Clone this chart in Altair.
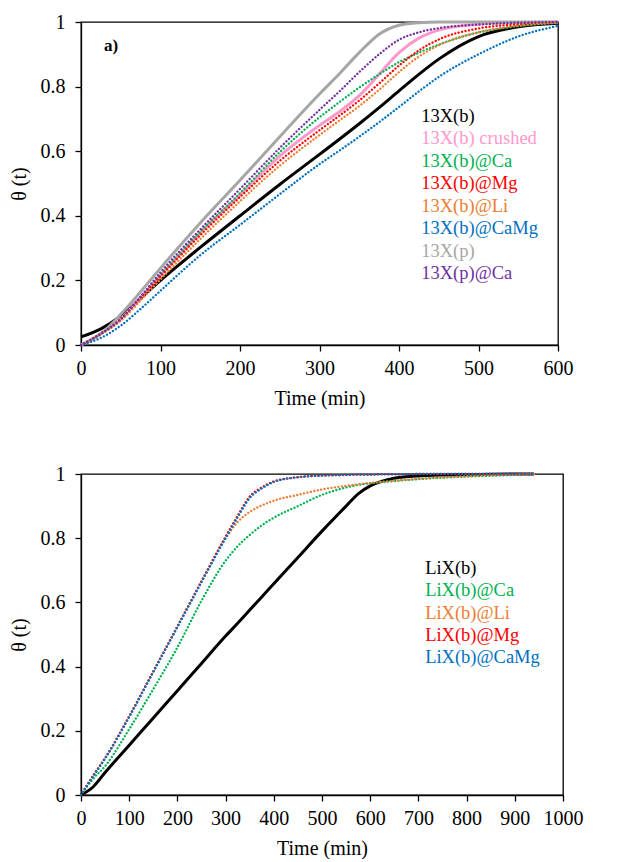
import altair as alt
import pandas as pd

FONT = "Liberation Serif"

# ---------------- panel a) ----------------
T_A = [0, 25, 50, 75, 100, 150, 200, 250, 300, 325, 350, 375, 400, 425, 450, 500, 550, 600]
A_NAMES = ["13X(b)", "13X(b) crushed", "13X(b)@Ca", "13X(b)@Mg", "13X(b)@Li",
           "13X(b)@CaMg", "13X(p)", "13X(p)@Ca"]
A_COLORS = ["#000000", "#FF99CC", "#00B050", "#FF0000", "#ED7D31",
            "#0070C0", "#A6A6A6", "#7030A0"]
A_STYLE = ["solid", "solid", "dot", "dot", "dot", "dot", "solid", "dot"]

A_13Xb = [0.025, 0.05, 0.09, 0.145, 0.2, 0.302, 0.4, 0.497, 0.59, 0.637, 0.685, 0.735,
          0.787, 0.838, 0.885, 0.955, 0.985, 0.996]
A_13Xb_crushed = [0.0, 0.035, 0.08, 0.148, 0.215, 0.348, 0.465, 0.585, 0.68, 0.722, 0.772,
                  0.838, 0.905, 0.95, 0.975, 0.993, 0.998, 1.0]
A_13Xb_Ca = [0.0, 0.035, 0.08, 0.148, 0.218, 0.35, 0.47, 0.597, 0.705, 0.752, 0.797, 0.838,
             0.876, 0.905, 0.93, 0.968, 0.987, 0.998]
A_13Xb_Mg = [0.0, 0.035, 0.08, 0.145, 0.212, 0.34, 0.458, 0.57, 0.665, 0.71, 0.757, 0.81,
             0.865, 0.912, 0.946, 0.98, 0.993, 0.999]
A_13Xb_Li = [0.0, 0.033, 0.075, 0.138, 0.203, 0.328, 0.445, 0.555, 0.65, 0.695, 0.74,
             0.79, 0.845, 0.893, 0.928, 0.968, 0.988, 0.997]
A_13Xb_CaMg = [0.0, 0.022, 0.06, 0.112, 0.168, 0.278, 0.372, 0.467, 0.56, 0.602, 0.645,
               0.69, 0.737, 0.785, 0.83, 0.9, 0.955, 0.988]
A_13Xp = [0.0, 0.035, 0.095, 0.165, 0.238, 0.378, 0.51, 0.645, 0.777, 0.84, 0.905, 0.962,
          0.99, 0.998, 1.0, 1.0, 1.0, 1.0]
A_13Xp_Ca = [0.0, 0.035, 0.08, 0.15, 0.225, 0.358, 0.483, 0.61, 0.728, 0.785, 0.845, 0.9,
             0.945, 0.968, 0.981, 0.992, 0.998, 1.0]
A_VALUES = [A_13Xb, A_13Xb_crushed, A_13Xb_Ca, A_13Xb_Mg, A_13Xb_Li, A_13Xb_CaMg,
            A_13Xp, A_13Xp_Ca]

# ---------------- panel b) ----------------
T_B = [0, 25, 50, 100, 150, 200, 250, 300, 325, 350, 375, 400, 450, 500, 550, 575, 600,
       625, 650, 700, 800, 900, 940]
B_NAMES = ["LiX(b)", "LiX(b)@Ca", "LiX(b)@Li", "LiX(b)@Mg", "LiX(b)@CaMg"]
B_COLORS = ["#000000", "#00B050", "#ED7D31", "#FF0000", "#0070C0"]
B_STYLE = ["solid", "dot", "dot", "dot", "dot"]

B_LiXb = [0.0, 0.025, 0.07, 0.155, 0.24, 0.325, 0.41, 0.495, 0.535, 0.576, 0.617, 0.658,
          0.74, 0.822, 0.9, 0.938, 0.963, 0.978, 0.987, 0.994, 0.998, 1.0, 1.0]
B_LiXb_Ca = [0.0, 0.05, 0.09, 0.205, 0.33, 0.46, 0.605, 0.73, 0.775, 0.81, 0.84, 0.864,
             0.9, 0.935, 0.958, 0.966, 0.971, 0.975, 0.978, 0.984, 0.992, 0.997, 1.0]
B_LiXb_Li = [0.0, 0.06, 0.115, 0.245, 0.385, 0.525, 0.667, 0.8, 0.85, 0.882, 0.902, 0.917,
             0.935, 0.952, 0.963, 0.968, 0.972, 0.976, 0.979, 0.985, 0.993, 0.998, 1.0]
B_LiXb_Mg = [0.0, 0.06, 0.115, 0.245, 0.385, 0.525, 0.665, 0.805, 0.87, 0.93, 0.958, 0.977,
             0.99, 0.995, 0.997, 0.998, 0.998, 0.999, 0.999, 1.0, 1.0, 1.0, 1.0]
B_LiXb_CaMg = [0.0, 0.058, 0.113, 0.243, 0.383, 0.523, 0.663, 0.8, 0.865, 0.925, 0.955,
               0.975, 0.99, 0.995, 0.997, 0.998, 0.998, 0.999, 0.999, 1.0, 1.0, 1.0, 1.0]
B_VALUES = [B_LiXb, B_LiXb_Ca, B_LiXb_Li, B_LiXb_Mg, B_LiXb_CaMg]

X_TICKS_A = [0, 100, 200, 300, 400, 500, 600]
X_TICKS_B = [0, 100, 200, 300, 400, 500, 600, 700, 800, 900, 1000]
Y_TICKS = [0, 0.1, 0.2, 0.3, 0.4, 0.5, 0.6, 0.7, 0.8, 0.9, 1.0]


def long_frame(t, names, styles, values):
    rows = []
    for name, style, vals in zip(names, styles, values):
        for ti, v in zip(t, vals):
            rows.append({"t": ti, "theta": v, "series": name, "style": style})
    return pd.DataFrame(rows)


def legend_frame(names, colors, x0, y0, step):
    return pd.DataFrame({
        "label": names,
        "color": colors,
        "lx": [x0] * len(names),
        "ly": [y0 - i * step for i in range(len(names))],
    })


def panel(t, names, colors, styles, values, xmax, xticks, w, h, leg_x, leg_y, tag=None):
    df = long_frame(t, names, styles, values)
    xs = alt.Scale(domain=[0, xmax], nice=False, zero=False)
    ys = alt.Scale(domain=[0, 1], nice=False)
    xax = alt.Axis(values=xticks, title="Time (min)", format="d")
    yax = alt.Axis(values=Y_TICKS, title="θ (t)",
                   labelExpr="round(datum.value*10) % 2 == 0 ? format(datum.value, '~g') : ''")
    color = alt.Color("series:N", scale=alt.Scale(domain=names, range=colors), legend=None)

    solid = alt.Chart(df[df["style"] == "solid"]).mark_line(
        strokeWidth=3, interpolate="monotone"
    ).encode(
        x=alt.X("t:Q", scale=xs, axis=xax),
        y=alt.Y("theta:Q", scale=ys, axis=yax),
        color=color,
        detail="series:N",
        order="t:Q",
    )
    dotted = alt.Chart(df[df["style"] == "dot"]).mark_line(
        strokeWidth=2.3, strokeDash=[0.1, 3.4], strokeCap="round", interpolate="monotone"
    ).encode(
        x=alt.X("t:Q", scale=xs, axis=xax),
        y=alt.Y("theta:Q", scale=ys, axis=yax),
        color=color,
        detail="series:N",
        order="t:Q",
    )
    leg = alt.Chart(legend_frame(names, colors, leg_x, leg_y, 0.0695)).mark_text(
        align="left", baseline="middle", font=FONT, fontSize=18.5
    ).encode(
        x=alt.X("lx:Q", scale=xs),
        y=alt.Y("ly:Q", scale=ys),
        text="label:N",
        color=alt.Color("color:N", scale=None),
    )
    layers = [solid, dotted, leg]
    if tag is not None:
        tagdf = pd.DataFrame({"label": [tag[0]], "lx": [tag[1]], "ly": [tag[2]]})
        layers.append(alt.Chart(tagdf).mark_text(
            align="left", baseline="middle", font=FONT, fontSize=17, fontWeight="bold",
            color="black"
        ).encode(x=alt.X("lx:Q", scale=xs), y=alt.Y("ly:Q", scale=ys), text="label:N"))
    return alt.layer(*layers).properties(width=w, height=h)


top = panel(T_A, A_NAMES, A_COLORS, A_STYLE, A_VALUES, 600, X_TICKS_A, 477, 323,
            428, 0.709, tag=("a)", 29, 0.926))
bottom = panel(T_B, B_NAMES, B_COLORS, B_STYLE, B_VALUES, 1000, X_TICKS_B, 482, 321,
               714, 0.707)

chart = alt.vconcat(top, bottom, spacing=54).resolve_scale(
    color="independent", x="independent"
).properties(
    padding={"left": 0, "top": 3, "right": 5, "bottom": 0}
).configure_view(
    stroke="black", strokeWidth=1.3
).configure_axis(
    grid=False, domainColor="black", domainWidth=1.3, tickColor="black", tickWidth=1.3,
    tickSize=6, labelColor="black", titleColor="black", labelFont=FONT, titleFont=FONT,
    labelFontSize=20, titleFontSize=20, titleFontWeight="normal", labelPadding=7,
    titlePadding=10, labelOverlap=False, labelFlush=False
).configure_axisY(
    labelPadding=10, titlePadding=11
)

chart.save("out.html", embed_options={"renderer": "svg", "actions": False})
